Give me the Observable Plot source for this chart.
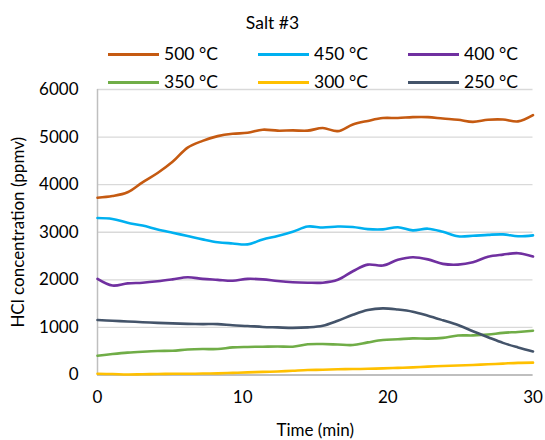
<!DOCTYPE html>
<html>
<head>
<meta charset="utf-8">
<script src="https://cdn.jsdelivr.net/npm/d3@7"></script>
<script src="https://cdn.jsdelivr.net/npm/@observablehq/plot@0.6"></script>
<style>
  body { margin: 0; background: #fff; font-family: Lato, "Open Sans", sans-serif; }
  #wrap { width: 545px; height: 440px; position: relative; }
  #head { position: relative; width: 545px; height: 80px; color: #000; }
  #title { position: absolute; left: 0; width: 545px; top: 12px; text-align: center; font-size: 17.5px; line-height: 22px; }
  .item { position: absolute; height: 22px; }
  .item .sw { position: absolute; left: 0; top: 9.5px; width: 51px; height: 3px; }
  .item .lb { position: absolute; left: 56px; top: 0; font-size: 17.5px; line-height: 22px; white-space: nowrap; }
  svg { display: block; }
</style>
</head>
<body>
<div id="wrap">
  <div id="head"><div id="title">Salt #3</div></div>
  <div id="chart"></div>
</div>
<script>
const title = "Salt #3";
const seriesNames = ["500 °C", "450 °C", "400 °C", "350 °C", "300 °C", "250 °C"];
const seriesColors = ["#C55A11", "#00B0F0", "#7030A0", "#70AD47", "#FFC000", "#44546A"];
const time = [0, 1.03, 2.07, 3.10, 4.14, 5.17, 6.21, 7.24, 8.28, 9.31, 10.34, 11.38, 12.41, 13.45, 14.48, 15.52, 16.55, 17.59, 18.62, 19.66, 20.69, 21.72, 22.76, 23.79, 24.83, 25.86, 26.90, 27.93, 28.97, 30];
const s500 = [3725, 3760, 3840, 4050, 4245, 4480, 4780, 4920, 5020, 5070, 5090, 5155, 5135, 5140, 5135, 5190, 5125, 5265, 5340, 5400, 5400, 5420, 5420, 5390, 5365, 5320, 5365, 5370, 5330, 5460];
const s450 = [3300, 3280, 3200, 3140, 3060, 2990, 2920, 2850, 2790, 2765, 2745, 2850, 2920, 3010, 3120, 3100, 3120, 3110, 3065, 3060, 3105, 3040, 3075, 3010, 2915, 2925, 2945, 2955, 2915, 2935];
const s400 = [2020, 1880, 1925, 1940, 1970, 2010, 2055, 2020, 2000, 1980, 2020, 2010, 1975, 1950, 1940, 1940, 2000, 2180, 2320, 2300, 2420, 2475, 2430, 2335, 2320, 2370, 2485, 2530, 2560, 2490];
const s350 = [405, 440, 470, 490, 505, 510, 535, 545, 545, 580, 590, 595, 600, 595, 645, 650, 640, 630, 685, 735, 750, 770, 765, 780, 830, 832, 850, 885, 905, 930];
const s300 = [25, 20, 10, 15, 20, 25, 25, 30, 35, 45, 55, 65, 75, 90, 105, 110, 120, 125, 130, 140, 150, 160, 175, 190, 200, 210, 225, 240, 255, 260];
const s250 = [1155, 1140, 1125, 1110, 1095, 1085, 1075, 1070, 1070, 1045, 1030, 1010, 1000, 990, 1000, 1035, 1140, 1265, 1365, 1400, 1375, 1330, 1245, 1150, 1050, 920, 795, 675, 580, 495];
const yTicks = [0, 1000, 2000, 3000, 4000, 5000, 6000];
const xTicks = [0, 10, 20, 30];
const xTitle = "Time (min)";
const yTitle = "HCl concentration (ppmv)";

document.getElementById("title").textContent = title;

const allSeries = [s500, s450, s400, s350, s300, s250];
const rows = [];
allSeries.forEach((vals, k) => {
  vals.forEach((v, i) => rows.push({series: seriesNames[k], t: time[i], v}));
});

// legend
const head = document.getElementById("head");
seriesNames.forEach((name, k) => {
  const col = k % 3, row = Math.floor(k / 3);
  const it = document.createElement("div");
  it.className = "item";
  it.style.left = (108 + col * 150) + "px";
  it.style.top = (43 + row * 28) + "px";
  const sw = document.createElement("div");
  sw.className = "sw";
  sw.style.background = seriesColors[k];
  const lb = document.createElement("div");
  lb.className = "lb";
  lb.textContent = name;
  it.appendChild(sw); it.appendChild(lb);
  head.appendChild(it);
});

const chart = Plot.plot({
  width: 545,
  height: 360,
  marginTop: 9,
  marginBottom: 65.5,
  marginLeft: 97,
  marginRight: 12.5,
  style: {fontFamily: "Lato, 'Open Sans', sans-serif", fontSize: "17px", color: "#000", background: "#fff", overflow: "visible"},
  x: {domain: [0, 30], ticks: xTicks, label: null},
  y: {domain: [0, 6000], ticks: yTicks, label: null},
  color: {domain: seriesNames, range: seriesColors},
  marks: [
    Plot.gridY(yTicks, {stroke: "#D9D9D9", strokeOpacity: 1, strokeWidth: 1.3}),
    Plot.ruleX([0], {stroke: "#BFBFBF", strokeWidth: 1.5}),
    Plot.ruleY([0], {stroke: "#BFBFBF", strokeWidth: 2}),
    Plot.axisY(yTicks, {tickSize: 0, tickPadding: 19, fontSize: 17, tickFormat: d => String(d)}),
    Plot.axisX(xTicks, {tickSize: 0, tickPadding: 16, fontSize: 17, tickFormat: d => String(d)}),
    Plot.line(rows, {x: "t", y: "v", z: "series", stroke: "series", strokeWidth: 2.6, curve: "catmull-rom"}),
    Plot.text([xTitle], {frameAnchor: "bottom", dy: 61, fontSize: 17, fill: "#000"}),
    Plot.text([yTitle], {frameAnchor: "left", textAnchor: "middle", dx: -79, rotate: -90, fontSize: 17, fill: "#000"})
  ]
});
document.getElementById("chart").appendChild(chart);
</script>
</body>
</html>
